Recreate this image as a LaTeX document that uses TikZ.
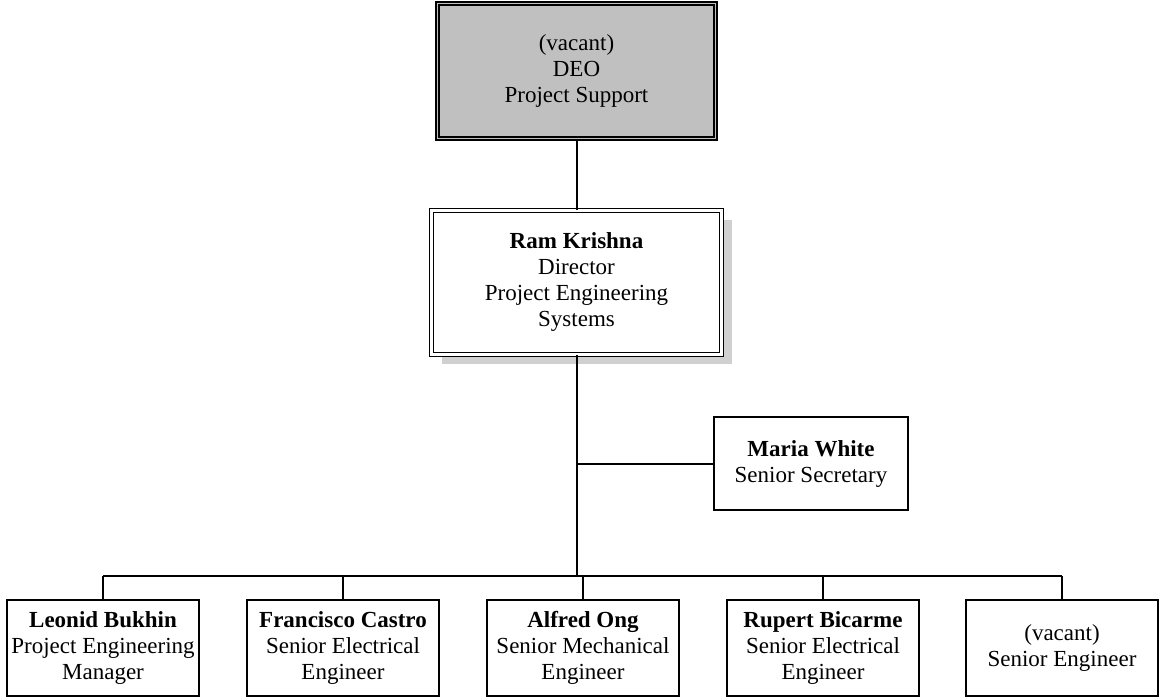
\documentclass[tikz,border=0pt]{standalone}
\usepackage{fontspec}
\setmainfont{Liberation Serif}
\usetikzlibrary{shadows,calc}
\definecolor{boxgray}{HTML}{C0C0C0}
\definecolor{shadowgray}{HTML}{D0D0D0}
\begin{document}
\begin{tikzpicture}[x=1pt,y=-1pt,
  every node/.style={font=\fontsize{23}{26}\selectfont, align=center, inner sep=0pt},
  person/.style={draw=black, fill=white, line width=1.5pt, rectangle, minimum width=192pt, minimum height=96pt},
  link/.style={draw=black, line width=1.5pt}
]
\useasboundingbox (0,0) rectangle (1159,698);

% top box
\node[draw=black, line width=2.2pt, fill=boxgray, minimum width=281pt, minimum height=138pt] (deo) at (576.5,71)
  {(vacant)\\DEO\\Project Support};
\draw[line width=1.4pt] ([shift={(4pt,-4pt)}]deo.north west) rectangle ([shift={(-4pt,4pt)}]deo.south east);

% director box
\node[draw=black, fill=white, line width=1.3pt, double=white, double distance=2.4pt,
  minimum width=290pt, minimum height=144pt,
  drop shadow={shadow xshift=10pt, shadow yshift=-9pt, fill=shadowgray, opacity=1}] (rk) at (576.5,282.5)
  {\textbf{Ram Krishna}\\Director\\Project Engineering\\Systems};

% secretary
\node[person, minimum width=194pt, minimum height=93pt] (mw) at (811,463.5)
  {\textbf{Maria White}\\Senior Secretary};

% bottom row
\node[person] (lb) at (103,648) {\textbf{Leonid Bukhin}\\Project Engineering\\Manager};
\node[person] (fc) at (343,648) {\textbf{Francisco Castro}\\Senior Electrical\\Engineer};
\node[person] (ao) at (583,648) {\textbf{Alfred Ong}\\Senior Mechanical\\Engineer};
\node[person] (rb) at (823,648) {\textbf{Rupert Bicarme}\\Senior Electrical\\Engineer};
\node[person] (vs) at (1062,648) {(vacant)\\Senior Engineer};

% connectors
\coordinate (bus) at (577,576);
\coordinate (mwj) at (577,464);
\draw[link] (deo.south -| bus) -- (rk.north -| bus);
\draw[link] (rk.south -| bus) -- (bus);
\draw[link] (mwj) -- (mw.west |- mwj);
\draw[link] (lb.north |- bus) -- (vs.north |- bus);
\foreach \n in {lb,fc,ao,rb,vs}{
  \draw[link] (\n.north |- bus) -- (\n.north);
}
\end{tikzpicture}
\end{document}
